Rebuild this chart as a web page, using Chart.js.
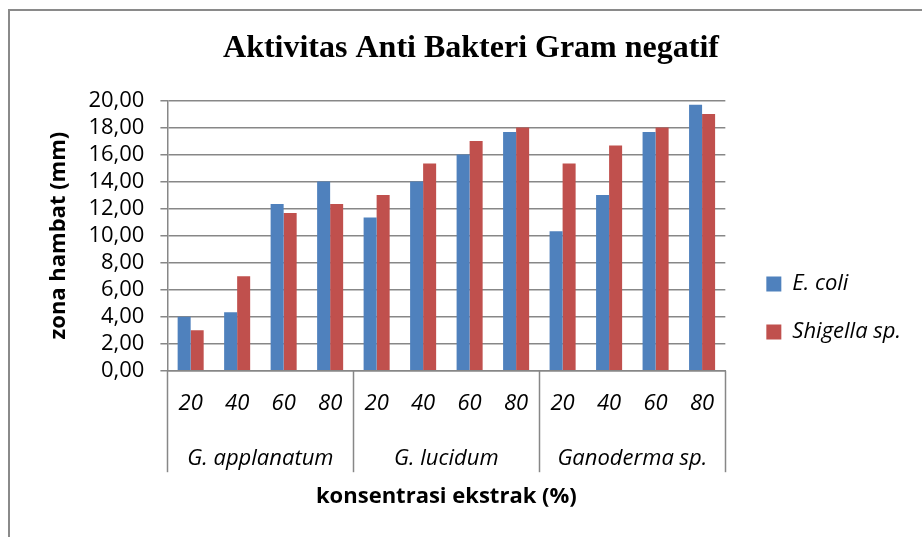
<!DOCTYPE html>
<html>
<head>
<meta charset="utf-8">
<script src="https://cdn.jsdelivr.net/npm/chart.js@4.4.0/dist/chart.umd.min.js"></script>
<style>
  html, body { margin: 0; padding: 0; background: #fff; }
</style>
</head>
<body>
<canvas id="bar-chart" width="922" height="537"></canvas>
<script>
// concentration labels (%) for each bar pair, grouped by species
const concentrations = ['20', '40', '60', '80', '20', '40', '60', '80', '20', '40', '60', '80'];
const species = ['G. applanatum', 'G. lucidum', 'Ganoderma sp.'];

// inhibition zone (mm)
const eColi    = [4.00, 4.33, 12.33, 14.00, 11.33, 14.00, 16.00, 17.67, 10.33, 13.00, 17.67, 19.67];
const shigella = [3.00, 7.00, 11.67, 12.33, 13.00, 15.33, 17.00, 18.00, 15.33, 16.67, 18.00, 19.00];

const yMin = 0, yMax = 20, yStep = 2;

const gridColor = '#878787';
const sans = "'Open Sans', sans-serif";

// outer frame like the excel chart box
const frame = {
  id: 'frame',
  beforeDraw(chart) {
    const ctx = chart.ctx;
    ctx.save();
    ctx.fillStyle = '#fff';
    ctx.fillRect(0, 0, chart.width, chart.height);
    ctx.strokeStyle = '#8a8a8a';
    ctx.lineWidth = 2;
    ctx.strokeRect(9, 10, chart.width + 20, chart.height + 20);
    ctx.restore();
  }
};

// vertical separators between the species groups under the axis
const groupLines = {
  id: 'groupLines',
  afterDraw(chart) {
    const x = chart.scales.x;
    const per = concentrations.length / species.length;
    const step = x.width / concentrations.length;
    const top = chart.chartArea.bottom;
    const bottom = chart.scales.x2.top + 35;
    const ctx = chart.ctx;
    ctx.save();
    ctx.strokeStyle = gridColor;
    ctx.lineWidth = 1.5;
    for (let g = 0; g <= species.length; g++) {
      const px = Math.round(x.left + g * per * step) + 0.5;
      ctx.beginPath();
      ctx.moveTo(px, top);
      ctx.lineTo(px, bottom);
      ctx.stroke();
    }
    ctx.restore();
  }
};

// nudge legend and title to where excel put them
const nudge = {
  id: 'nudge',
  afterLayout(chart) {
    const lg = chart.legend;
    lg.left += 15; lg.right += 15;
    lg.top += 247; lg.bottom += 247;
    const t = chart.titleBlock;
    t.left += 2; t.right += 2;
  }
};

const config = {
  type: 'bar',
  data: {
    labels: concentrations,
    datasets: [{
      label: 'E. coli',
      data: eColi,
      backgroundColor: '#4F81BD',
      categoryPercentage: 0.56,
      barPercentage: 1.0
    },
    {
      label: 'Shigella sp.',
      data: shigella,
      backgroundColor: '#C0504D',
      categoryPercentage: 0.56,
      barPercentage: 1.0
    }]
  },
  options: {
    responsive: false,
    animation: false,
    layout: {
      padding: { left: 42, right: 26, top: 0, bottom: 23 }
    },
    plugins: {
      title: {
        display: true,
        text: 'Aktivitas Anti Bakteri Gram negatif',
        color: '#000',
        font: { family: "'Liberation Serif', serif", size: 32, weight: 'bold' },
        padding: { top: 30, bottom: 32 }
      },
      legend: {
        position: 'right',
        align: 'start',
        labels: {
          boxWidth: 15,
          boxHeight: 15,
          padding: 26,
          color: '#000',
          font: { family: sans, size: 22, style: 'italic' }
        }
      },
      tooltip: { enabled: false }
    },
    scales: {
      x: {
        grid: { display: false, drawTicks: false, tickLength: 0 },
        border: { display: true, color: gridColor, width: 1.5 },
        ticks: {
          color: '#000',
          padding: 20,
          maxRotation: 0,
          autoSkip: false,
          font: { family: sans, size: 22, style: 'italic' }
        }
      },
      x2: {
        type: 'category',
        position: 'bottom',
        labels: species,
        offset: true,
        grid: { display: false, drawTicks: false, tickLength: 0 },
        border: { display: false },
        ticks: {
          color: '#000',
          padding: 8,
          maxRotation: 0,
          autoSkip: false,
          font: { family: sans, size: 22, style: 'italic' }
        },
        title: {
          display: true,
          text: 'konsentrasi ekstrak (%)',
          color: '#000',
          font: { family: sans, size: 22, weight: 'bold' },
          padding: { top: 4, bottom: 4 }
        }
      },
      y: {
        min: yMin,
        max: yMax,
        grid: { color: gridColor, lineWidth: 1.5, tickLength: 7 },
        border: { display: true, color: gridColor, width: 1.5 },
        ticks: {
          stepSize: yStep,
          autoSkip: false,
          color: '#000',
          padding: 16,
          font: { family: sans, size: 22 },
          callback: v => v.toFixed(2).replace('.', ',')
        },
        title: {
          display: true,
          text: 'zona hambat (mm)',
          color: '#000',
          font: { family: sans, size: 22, weight: 'bold' },
          padding: { top: 4, bottom: 0 }
        }
      }
    }
  },
  plugins: [frame, groupLines, nudge]
};

const ctx = document.getElementById('bar-chart').getContext('2d');
const myChart = new Chart(ctx, config);
</script>
</body>
</html>
